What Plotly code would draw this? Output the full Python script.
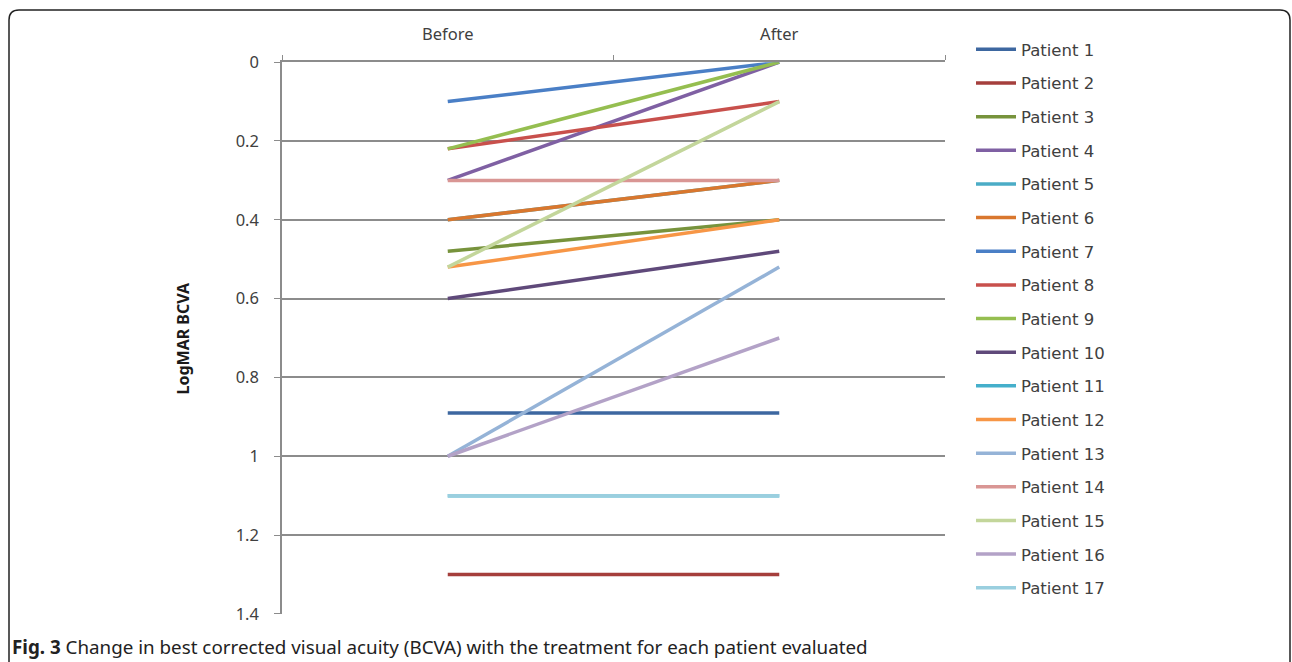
import plotly.graph_objects as go

W, H = 1292, 662

categories = ["Before", "After"]
patients = [f"Patient {i}" for i in range(1, 18)]
before = [0.89, 1.30, 0.48, 0.30, 0.40, 0.40, 0.10, 0.22, 0.22, 0.60, 1.10, 0.52, 1.00, 0.30, 0.52, 1.00, 1.10]
after  = [0.89, 1.30, 0.40, 0.00, 0.30, 0.30, 0.00, 0.10, 0.00, 0.48, 1.10, 0.40, 0.52, 0.30, 0.10, 0.70, 1.10]
colors = ["#3D67A0", "#A53F3C", "#77933C", "#7F60A3", "#4BACC6", "#D9772E",
          "#4A7FC6", "#C8504C", "#95BE50", "#5F497A", "#45AFCB", "#F79646",
          "#95B3D7", "#D99694", "#C3D69B", "#B3A2C7", "#9ACFDF"]
y_ticks = [0, 0.2, 0.4, 0.6, 0.8, 1, 1.2, 1.4]
y_ticktext = ["0", "0.2", "0.4", "0.6", "0.8", "1", "1.2", "1.4"]

# the photographed page shows the figure vertically scaled about its centre
VS = 0.964
VOFF = (H / 2) * (1 - VS)


def px(x):
    return x / W


def py(y):
    return 1 - ((y - VOFF) / VS) / H


fig = go.Figure()
for name, b, a, c in zip(patients, before, after, colors):
    fig.add_trace(go.Scatter(
        x=categories, y=[b, a], mode="lines", name=name,
        legendgroup=name,
        line=dict(color=c, width=3.5),
    ))

grid_col = "#8C8C8C"
fig.update_layout(
    width=W, height=H,
    margin=dict(l=0, r=0, t=0, b=0),
    paper_bgcolor="white", plot_bgcolor="white",
    showlegend=True,
    legend=dict(
        x=px(971), y=py(32), xanchor="left", yanchor="top",
        traceorder="grouped", tracegroupgap=9.2,
        font=dict(family="DejaVu Sans", size=16.5, color="#404040"),
        bgcolor="rgba(0,0,0,0)", itemwidth=40,
    ),
    xaxis=dict(
        domain=[px(282), px(945)],
        type="category", range=[-0.5, 1.5],
        side="top", tickson="boundaries",
        ticks="outside", ticklen=5, tickcolor=grid_col,
        showline=True, linecolor=grid_col, linewidth=1.5,
        showgrid=False, zeroline=False,
        tickfont=dict(family="Noto Sans", size=16.5, color="#404040"),
        ticklabelstandoff=14,
        fixedrange=True,
    ),
    yaxis=dict(
        domain=[py(613), py(62)],
        range=[1.4, 0],
        tickvals=y_ticks, ticktext=y_ticktext,
        ticks="outside", ticklen=6, tickcolor=grid_col,
        showline=True, linecolor=grid_col, linewidth=1.5,
        showgrid=True, gridcolor=grid_col, gridwidth=1.5,
        zeroline=False,
        tickfont=dict(family="Noto Sans", size=16.5, color="#404040"),
        ticklabelstandoff=12,
        fixedrange=True,
    ),
)

# y-axis title
fig.add_annotation(
    x=px(183), y=py(338), xref="paper", yref="paper",
    text="<b>LogMAR BCVA</b>", textangle=-90, showarrow=False,
    font=dict(family="Noto Sans", size=16, color="#1a1a1a"),
    xanchor="center", yanchor="middle",
)

# caption
fig.add_annotation(
    x=px(10), y=py(646), xref="paper", yref="paper",
    text="<b>Fig. 3</b> Change in best corrected visual acuity (BCVA) with the treatment for each patient evaluated",
    showarrow=False, xanchor="left", yanchor="middle",
    font=dict(family="Noto Sans", size=18.8, color="#222222"),
)

# rounded frame
r = 10
path = (f"M {px(9)},{py(720)} L {px(9)},{py(10 + r)} "
        f"Q {px(9)},{py(10)} {px(9 + r)},{py(10)} "
        f"L {px(1290 - r)},{py(10)} Q {px(1290)},{py(10)} {px(1290)},{py(10 + r)} "
        f"L {px(1290)},{py(720)}")
fig.add_shape(type="path", path=path, xref="paper", yref="paper",
              line=dict(color="#222222", width=1.5))

post = (
    "document.documentElement.style.margin='0';"
    "document.body.style.margin='0';"
    "document.body.style.overflow='hidden';"
    "document.documentElement.style.overflow='hidden';"
    "var g=document.getElementsByClassName('plotly-graph-div')[0];"
    "g.style.position='fixed';g.style.top='0px';g.style.left='0px';"
)

fig.write_html("out.html", config={"displayModeBar": False}, post_script=post)
